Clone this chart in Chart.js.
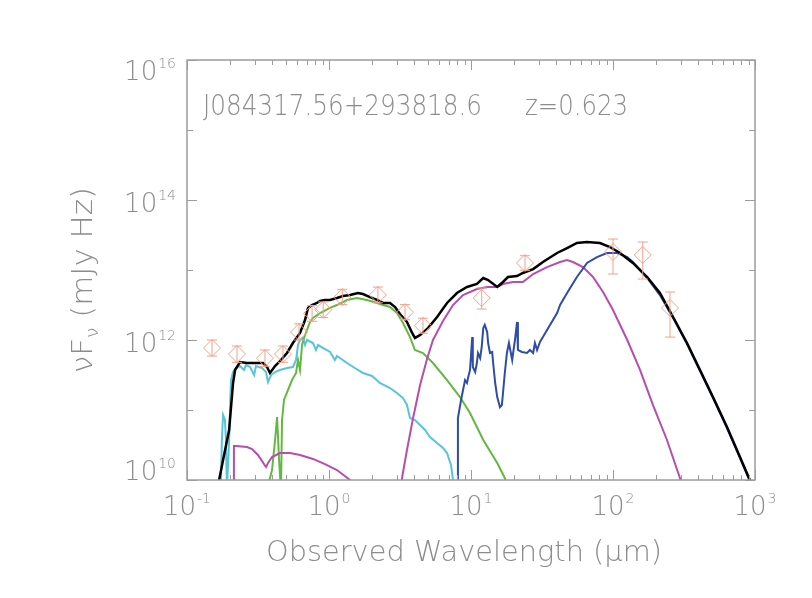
<!DOCTYPE html>
<html>
<head>
<meta charset="utf-8">
<script src="https://cdn.jsdelivr.net/npm/chart.js@4.4.1/dist/chart.umd.min.js"></script>
<style>
  html, body { margin: 0; padding: 0; background: #fff; }
  canvas { display: block; }
</style>
</head>
<body>
<canvas id="sed" width="812" height="598"></canvas>
<script>
// source name + redshift shown in the plot
var objName = "J084317.56+293818.6";
var redshift = "z=0.623";

// axis ranges / tick labels (decades)
var xDecades = [-1, 0, 1, 2, 3];
var yDecades = [10, 11, 12, 13, 14, 15, 16];
var yLabelled = [10, 12, 14, 16];

// photometry (micron, mJy Hz) with error bar ends
var obsWave = [0.150, 0.225, 0.354, 0.474, 0.615, 0.76, 0.91, 1.24, 2.21, 3.43, 4.59, 11.9, 24.0, 100, 162, 252];
var obsFlux = [7.7e11, 6.3e11, 5.5e11, 6.3e11, 1.3e12, 2.4e12, 2.7e12, 4.1e12, 4.4e12, 2.5e12, 1.6e12, 3.98e12, 1.26e13, 1.81e13, 1.64e13, 2.87e12];
var obsLow  = [5.9e11, 4.8e11, 4.2e11, 4.8e11, 1.0e12, 1.85e12, 2.1e12, 3.2e12, 3.4e12, 1.95e12, 1.25e12, 2.77e12, 9.9e12, 8.77e12, 7.43e12, 1.10e12];
var obsHigh = [1.0e12, 8.2e11, 7.2e11, 8.2e11, 1.7e12, 3.1e12, 3.5e12, 5.3e12, 5.7e12, 3.2e12, 2.05e12, 5.53e12, 1.6e13, 2.77e13, 2.51e13, 4.85e12];

// total model (black)
var totalWave = [0.163, 0.1795, 0.198, 0.211, 0.218, 0.236, 0.265, 0.343, 0.366, 0.384, 0.417, 0.452, 0.506, 0.557, 0.625, 0.678, 0.711, 0.759, 0.822, 0.865, 0.937, 1.016, 1.138, 1.255, 1.406, 1.60, 1.734, 1.944, 2.18, 2.40, 2.69, 2.92, 3.16, 3.54, 3.85, 4.03, 4.38, 4.98, 5.77, 6.78, 7.96, 9.37, 11.0, 12.2, 13.2, 15.3, 16.8, 18.2, 21.1, 23.2, 27.4, 32.1, 40.4, 47.5, 55.7, 65.6, 80.9, 95.2, 112, 138, 174, 214, 265, 332, 410, 506, 635, 784, 907, 1000];
var totalFlux = [7.2e9, 1.93e10, 5.18e10, 2.43e11, 3.73e11, 4.85e11, 4.69e11, 4.69e11, 4.11e11, 3.38e11, 4.25e11, 5.01e11, 6.52e11, 9.06e11, 1.26e12, 1.93e12, 2.87e12, 3.16e12, 3.38e12, 3.61e12, 3.73e12, 3.73e12, 3.98e12, 4.25e12, 4.39e12, 4.69e12, 4.54e12, 4.11e12, 3.73e12, 3.38e12, 3.38e12, 2.96e12, 2.35e12, 1.81e12, 1.26e12, 1.07e12, 1.18e12, 1.48e12, 2.13e12, 3.38e12, 4.69e12, 5.72e12, 6.31e12, 7.69e12, 7.2e12, 5.72e12, 6.74e12, 7.94e12, 8.2e12, 9.06e12, 1.03e13, 1.30e13, 1.75e13, 2.06e13, 2.43e13, 2.51e13, 2.43e13, 2.13e13, 1.75e13, 1.26e13, 7.94e12, 4.69e12, 2.13e12, 9.06e11, 3.73e11, 1.53e11, 5.72e10, 2.13e10, 1.07e10, 6.7e9];

// torus (blue)
var torusWave = [8.09, 8.09, 8.51, 8.79, 9.08, 9.37, 9.53, 9.84, 10.2, 10.3, 10.7, 11.0, 11.2, 11.6, 11.9, 12.2, 12.5, 13.0, 13.2, 13.6, 14.1, 14.3, 14.8, 15.3, 15.5, 16.0, 16.5, 16.8, 17.3, 17.9, 18.5, 19.5, 19.8, 20.4, 21.1, 21.4, 22.8, 24.8, 26.0, 27.4, 28.2, 29.2, 30.6, 32.1, 36.0, 40.4, 42.4, 47.5, 55.7, 60.5, 65.6, 77.1, 90.7, 107, 126, 138, 174, 214, 265, 332, 410, 506, 635, 784, 907, 1000];
var torusFlux = [7.2e9, 7.69e10, 1.39e11, 1.93e11, 2.68e11, 2.43e11, 2.87e11, 3.73e11, 1.10e12, 4.11e11, 3.49e11, 4.69e11, 6.52e11, 5.53e11, 7.94e11, 1.48e12, 1.64e12, 1.30e12, 9.06e11, 6.52e11, 6.74e11, 4.85e11, 2.43e11, 1.53e11, 1.39e11, 1.10e11, 1.18e11, 1.75e11, 3.38e11, 6.52e11, 9.06e11, 5.18e11, 6.52e11, 1.0e12, 1.81e12, 7.2e11, 6.74e11, 6.52e11, 7.2e11, 6.52e11, 9.06e11, 7.2e11, 9.36e11, 1.10e12, 1.64e12, 2.43e12, 3.16e12, 4.69e12, 7.94e12, 1.0e13, 1.26e13, 1.53e13, 1.75e13, 1.75e13, 1.53e13, 1.30e13, 7.69e12, 4.39e12, 2.06e12, 8.77e11, 3.6e11, 1.48e11, 5.5e10, 2.06e10, 1.03e10, 6.5e9];

// starburst / dust (magenta, right)
var dustWave = [3.21, 3.27, 3.54, 3.91, 4.38, 4.90, 5.40, 6.35, 7.47, 8.79, 11.0, 13.0, 15.3, 16.8, 19.8, 23.2, 27.4, 34.3, 42.4, 47.5, 52.2, 61.5, 72.3, 85.1, 100, 126, 155, 191, 240, 296, 311];
var dustFlux = [7.2e9, 1.07e10, 2.68e10, 7.69e10, 2.28e11, 5.35e11, 1.0e12, 1.87e12, 3.16e12, 4.39e12, 5.35e12, 5.72e12, 5.72e12, 6.31e12, 6.74e12, 6.74e12, 8.77e12, 1.10e13, 1.30e13, 1.39e13, 1.30e13, 1.10e13, 7.94e12, 4.85e12, 2.68e12, 1.0e12, 3.73e11, 1.18e11, 3.73e10, 1.07e10, 7.2e9];

// magenta, left
var uvWave = [0.214, 0.214, 0.221, 0.265, 0.287, 0.316, 0.360, 0.372, 0.397, 0.452, 0.531, 0.625, 0.771, 0.937, 1.138, 1.406, 1.55];
var uvFlux = [5.2e9, 3.06e10, 3.06e10, 2.96e10, 2.77e10, 2.28e10, 1.53e10, 1.75e10, 2.13e10, 2.43e10, 2.43e10, 2.28e10, 2.0e10, 1.69e10, 1.39e10, 1.0e10, 8.2e9];

// AGN (cyan)
var agnWave = [0.173, 0.176, 0.1795, 0.185, 0.188, 0.191, 0.198, 0.204, 0.211, 0.221, 0.236, 0.252, 0.260, 0.278, 0.297, 0.306, 0.338, 0.360, 0.372, 0.391, 0.417, 0.452, 0.506, 0.557, 0.586, 0.605, 0.625, 0.656, 0.678, 0.700, 0.771, 0.810, 0.837, 1.016, 1.10, 1.138, 1.34, 1.52, 1.734, 2.01, 2.28, 2.69, 3.01, 3.32, 3.54, 3.72, 4.03, 4.38, 4.74, 5.14, 5.77, 6.35, 6.78, 7.23, 7.47, 7.59];
var agnFlux = [7.2e9, 3.73e10, 8.48e10, 7.2e10, 3.73e10, 7.2e9, 3.73e10, 2.68e11, 3.49e11, 3.98e11, 4.25e11, 3.73e11, 4.39e11, 4.11e11, 3.16e11, 4.25e11, 3.98e11, 3.49e11, 2.51e11, 3.16e11, 3.49e11, 3.73e11, 3.98e11, 4.11e11, 5.18e11, 8.48e11, 1.0e12, 1.07e12, 8.48e11, 1.0e12, 9.06e11, 7.2e11, 8.48e11, 6.74e11, 5.18e11, 5.91e11, 4.69e11, 3.98e11, 3.38e11, 3.06e11, 2.43e11, 2.06e11, 1.75e11, 1.48e11, 1.18e11, 7.69e10, 7.2e10, 6.1e10, 5.18e10, 4.11e10, 3.38e10, 2.87e10, 2.43e10, 1.64e10, 1.0e10, 7.2e9];

// host galaxy (green)
var hostWave = [0.366, 0.397, 0.417, 0.431, 0.445, 0.459, 0.467, 0.482, 0.514, 0.549, 0.586, 0.605, 0.625, 0.646, 0.667, 0.700, 0.735, 0.771, 0.865, 1.016, 1.138, 1.34, 1.57, 1.85, 2.18, 2.40, 2.69, 3.01, 3.32, 3.72, 4.03, 4.59, 5.40, 6.78, 8.37, 9.84, 12.2, 15.3, 17.3, 18.2];
var hostFlux = [7.2e9, 1.39e10, 3.73e10, 7.94e10, 1.93e10, 7.2e9, 7.2e10, 1.39e11, 1.93e11, 2.68e11, 3.38e11, 5.18e11, 3.73e11, 8.48e11, 1.07e12, 1.39e12, 1.81e12, 2.06e12, 2.43e12, 2.87e12, 3.16e12, 3.73e12, 3.98e12, 3.73e12, 3.38e12, 3.16e12, 2.96e12, 2.43e12, 1.75e12, 1.10e12, 7.2e11, 6.52e11, 4.69e11, 2.68e11, 1.53e11, 9.06e10, 3.73e10, 1.75e10, 1.07e10, 7.2e9];

var GREY = "#8c8c8c";
var AXIS = "#9c9c9c";
var SALMON = "#f5a088";
var FONT = '"DejaVu Sans", "Liberation Sans", sans-serif';

function pts(xs, ys) {
	return xs.map(function(v, i) { return {x: v, y: ys[i]}; });
}

function line(label, xs, ys, color, width) {
	return {label: label, data: pts(xs, ys), showLine: true, borderColor: color,
		borderWidth: width, pointRadius: 0, tension: 0, fill: false};
}

// draw a row of text pieces, optionally squeezed to a given width
function drawParts(ctx, parts, x, y, width) {
	var total = 0;
	parts.forEach(function(p) { ctx.font = p.font; p.w = ctx.measureText(p.t).width; total += p.w; });
	var s = width ? width / total : 1;
	ctx.save();
	ctx.translate(x, y);
	ctx.scale(s, 1);
	var cx = 0;
	parts.forEach(function(p) { ctx.font = p.font; ctx.fillText(p.t, cx, p.dy || 0); cx += p.w; });
	ctx.restore();
	return total * s;
}

function powLabel(ctx, exp, x, baseline, align) {
	var big = "200 26px " + FONT, small = "200 14px " + FONT;
	ctx.font = big; var w1 = ctx.measureText("10").width;
	ctx.font = small; var w2 = ctx.measureText(String(exp)).width;
	var w = w1 + 1 + w2;
	var left = align == "right" ? x - w : x - w / 2;
	ctx.font = big; ctx.fillText("10", left, baseline);
	ctx.font = small; ctx.fillText(String(exp), left + w1 + 1, baseline - 12);
}

var axesPlugin = {
	id: "idlAxes",
	afterDatasetsDraw: function(chart) {
		var ctx = chart.ctx, a = chart.chartArea, xs = chart.scales.x, ys = chart.scales.y;
		ctx.save();

		// error bars
		ctx.strokeStyle = SALMON;
		ctx.lineWidth = 1;
		for (var i = 0; i < obsWave.length; i++) {
			var px = xs.getPixelForValue(obsWave[i]);
			var lo = ys.getPixelForValue(obsLow[i]), hi = ys.getPixelForValue(obsHigh[i]);
			ctx.beginPath();
			ctx.moveTo(px, lo); ctx.lineTo(px, hi);
			ctx.moveTo(px - 5, lo); ctx.lineTo(px + 5, lo);
			ctx.moveTo(px - 5, hi); ctx.lineTo(px + 5, hi);
			ctx.stroke();
		}

		// frame
		ctx.strokeStyle = AXIS;
		ctx.lineWidth = 1.5;
		ctx.strokeRect(a.left, a.top, a.right - a.left, a.bottom - a.top);

		// inward ticks, x
		ctx.lineWidth = 1;
		ctx.beginPath();
		xDecades.forEach(function(e) {
			for (var k = 1; k <= 9; k++) {
				var v = k * Math.pow(10, e);
				if (v > 1000.0001) break;
				var px = Math.round(xs.getPixelForValue(v)) + 0.5;
				var len = k == 1 ? 10 : 5;
				ctx.moveTo(px, a.bottom); ctx.lineTo(px, a.bottom - len);
				ctx.moveTo(px, a.top); ctx.lineTo(px, a.top + len);
			}
		});
		// inward ticks, y
		yDecades.forEach(function(e) {
			var py = Math.round(ys.getPixelForValue(Math.pow(10, e))) + 0.5;
			var len = yLabelled.indexOf(e) >= 0 ? 10 : 6;
			ctx.moveTo(a.left, py); ctx.lineTo(a.left + len, py);
			ctx.moveTo(a.right, py); ctx.lineTo(a.right - len, py);
		});
		ctx.stroke();

		// tick labels
		ctx.fillStyle = GREY;
		ctx.textBaseline = "alphabetic";
		xDecades.forEach(function(e) {
			powLabel(ctx, e, xs.getPixelForValue(Math.pow(10, e)), a.bottom + 35, "center");
		});
		yLabelled.forEach(function(e) {
			var py = ys.getPixelForValue(Math.pow(10, e));
			var base = Math.min(Math.max(py + 12, a.top + 20), a.bottom);
			powLabel(ctx, e, a.left - 11, base, "right");
		});

		// axis titles
		var f = "200 28px " + FONT;
		drawParts(ctx, [{t: "Observed Wavelength (\u03bcm)", font: f}], 266, a.bottom + 81, 396);
		ctx.save();
		ctx.translate(92, 373);
		ctx.rotate(-Math.PI / 2);
		drawParts(ctx, [{t: "\u03bdF", font: f},
			{t: "\u03bd", font: "200 17px " + FONT, dy: 6}, {t: " (mJy Hz)", font: f}], 0, 0, 186);
		ctx.restore();

		// source label
		drawParts(ctx, [{t: objName, font: f}], 203, 115, 279);
		drawParts(ctx, [{t: redshift, font: f}], 525, 115, 103);

		ctx.restore();
	}
};

var ctx = document.getElementById("sed").getContext("2d");
var chart = new Chart(ctx, {
	type: "scatter",
	data: {
		datasets: [
			{label: "Photometry", data: pts(obsWave, obsFlux), showLine: false, pointStyle: "rectRot",
				pointRadius: 8.5, borderColor: SALMON, backgroundColor: "rgba(0,0,0,0)", borderWidth: 1},
			line("Total", totalWave, totalFlux, "#000000", 2.5),
			line("Torus", torusWave, torusFlux, "#2f4ca6", 2),
			line("Dust", dustWave, dustFlux, "#b64db0", 2),
			line("UV", uvWave, uvFlux, "#b64db0", 2),
			line("Host", hostWave, hostFlux, "#64b842", 2),
			line("AGN", agnWave, agnFlux, "#58c4da", 2)
		]
	},
	options: {
		responsive: false,
		animation: false,
		devicePixelRatio: 1,
		layout: {padding: {left: 187, right: 57, top: 60, bottom: 118}},
		plugins: {legend: {display: false}, tooltip: {enabled: false}},
		scales: {
			x: {type: "logarithmic", min: 0.1, max: 1000, display: false},
			y: {type: "logarithmic", min: 1e10, max: 1e16, display: false}
		}
	},
	plugins: [axesPlugin]
});
</script>
</body>
</html>
